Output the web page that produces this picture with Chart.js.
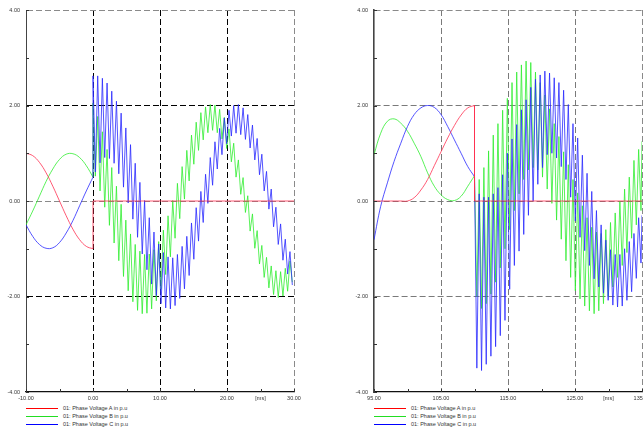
<!DOCTYPE html>
<html>
<head>
<meta charset="utf-8">
<script src="https://cdn.jsdelivr.net/npm/chart.js@4.4.1/dist/chart.umd.min.js"></script>
<style>
  html, body { margin: 0; padding: 0; background: #fff; }
  #wrap { position: relative; width: 643px; height: 432px; overflow: hidden; }
  #wrap canvas { position: absolute; top: 0; }
  #leftChart { left: 0; }
  #rightChart { left: 348px; }
  .legend { position: absolute; font-family: "Liberation Sans", Arial, sans-serif; font-size: 5.5px; color: #333; }
  .legend .swatch { position: absolute; left: 0; width: 32px; height: 1px; }
  .legend .label { position: absolute; left: 37px; line-height: 7px; white-space: nowrap; }
</style>
</head>
<body>
<div id="wrap">
  <canvas id="leftChart" width="320" height="404"></canvas>
  <canvas id="rightChart" width="320" height="404"></canvas>
  <div class="legend" id="leftLegend" style="left:26px; top:408px;"></div>
  <div class="legend" id="rightLegend" style="left:374px; top:408px;"></div>
</div>
<script>
// series names and colours
const seriesNames = ['01: Phase Voltage A in p.u', '01: Phase Voltage B in p.u', '01: Phase Voltage C in p.u'];
const seriesColors = ['#ff3050', '#30ee30', '#2828ff'];
const legendColors = ['#ff0000', '#22dd22', '#0000ff'];

// y axis (both panels)
const yTicks = [-4, -3, -2, -1, 0, 1, 2, 3, 4];
const yLabels = ['-4.00', '', '-2.00', '', '0.00', '', '2.00', '', '4.00'];

// left panel x axis [ms]
const leftXTicks = [-10, -5, 0, 5, 10, 15, 20, 25, 30];
const leftXLabels = ['-10.00', '', '0.00', '', '10.00', '', '20.00', '[ms]', '30.00'];

// right panel x axis [ms]
const rightXTicks = [95, 100, 105, 110, 115, 120, 125, 130, 135];
const rightXLabels = ['95.00', '', '105.00', '', '115.00', '', '125.00', '[ms]', '135.00'];

// left panel, before the fault (t = -10 .. 0 ms)
const leftPreT = [-10, -9, -8, -7, -6, -5, -4, -3, -2, -1, 0];
const leftPreA = [1, 0.95, 0.81, 0.59, 0.31, 0, -0.31, -0.59, -0.81, -0.95, -1];
const leftPreB = [-0.5, -0.21, 0.1, 0.41, 0.67, 0.87, 0.98, 0.99, 0.91, 0.74, 0.5];
const leftPreC = [-0.5, -0.74, -0.91, -0.99, -0.98, -0.87, -0.67, -0.41, -0.1, 0.21, 0.5];

// left panel, after the fault: phase A stays at zero
const leftFaultT = [0, 30];
const leftFaultA = [0, 0];

// left panel, after the fault: ringing phases B and C (peaks and troughs)
const leftPostT = [0, 0.35, 0.7, 1.05, 1.4, 1.75, 2.1, 2.45, 2.8, 3.15, 3.5, 3.85, 4.2, 4.55, 4.9, 5.25,
  5.6, 5.95, 6.3, 6.65, 7, 7.35, 7.7, 8.05, 8.4, 8.75, 9.1, 9.45, 9.8, 10.15, 10.5, 10.85, 11.2, 11.55,
  11.9, 12.25, 12.6, 12.95, 13.3, 13.65, 14, 14.35, 14.7, 15.05, 15.4, 15.75, 16.1, 16.45, 16.8, 17.15,
  17.5, 17.85, 18.2, 18.55, 18.9, 19.25, 19.6, 19.95, 20.3, 20.65, 21, 21.35, 21.7, 22.05, 22.4, 22.75,
  23.1, 23.45, 23.8, 24.15, 24.5, 24.85, 25.2, 25.55, 25.9, 26.25, 26.6, 26.95, 27.3, 27.65, 28, 28.35,
  28.7, 29.05, 29.4, 29.75];
const leftPostB = [2.05, 0.52, 1.77, 0.21, 1.45, -0.13, 1.08, -0.51, 0.70, -0.88,
  0.31, -1.25, -0.07, -1.58, -0.40, -1.88, -0.69, -2.11, -0.91, -2.29,
  -1.05, -2.36, -1.12, -2.35, -1.11, -2.26, -1.02, -2.09, -0.85, -1.85,
  -0.61, -1.54, -0.31, -1.17, 0.01, -0.78, 0.37, -0.37, 0.72, 0.04,
  1.06, 0.42, 1.38, 0.77, 1.65, 1.06, 1.85, 1.28, 1.97, 1.43,
  2.02, 1.48, 2.01, 1.43, 1.92, 1.30, 1.75, 1.10, 1.51, 0.82,
  1.21, 0.50, 0.86, 0.14, 0.49, -0.24, 0.11, -0.63, -0.27, -0.99,
  -0.62, -1.32, -0.93, -1.60, -1.18, -1.82, -1.36, -1.96, -1.46, -2.02,
  -1.48, -1.99, -1.41, -1.89, -1.26, -1.70];
const leftPostC = [2.62, 0.61, 2.62, 0.80, 2.57, 0.91, 2.47, 0.89, 2.30, 0.79,
  2.09, 0.57, 1.84, 0.29, 1.53, -0.04, 1.18, -0.38, 0.79, -0.76,
  0.39, -1.11, 0.01, -1.44, -0.35, -1.74, -0.65, -1.98, -0.90, -2.15,
  -1.08, -2.24, -1.17, -2.26, -1.19, -2.19, -1.12, -2.04, -0.95, -1.84,
  -0.74, -1.56, -0.46, -1.22, -0.14, -0.84, 0.20, -0.45, 0.56, -0.05,
  0.91, 0.33, 1.24, 0.67, 1.52, 0.97, 1.74, 1.20, 1.90, 1.36,
  2.00, 1.42, 2.02, 1.39, 1.95, 1.29, 1.81, 1.11, 1.59, 0.86,
  1.31, 0.55, 0.98, 0.21, 0.62, -0.17, 0.25, -0.54, -0.13, -0.91,
  -0.48, -1.24, -0.80, -1.53, -1.06, -1.76];

// right panel, before the fault (t = 95 .. 110 ms)
const rightPreT = [95, 96, 97, 98, 99, 100, 101, 102, 103, 104, 105, 106, 107, 108, 109, 110];
const rightPreA = [0, 0, 0, 0, 0, 0, 0.07, 0.23, 0.45, 0.74, 1.03, 1.32, 1.58, 1.8, 1.95, 2.0];
const rightPreB = [0.97, 1.42, 1.67, 1.72, 1.63, 1.46, 1.21, 0.93, 0.59, 0.31, 0.13, 0.03, 0.01, 0.1, 0.31, 0.53];
const rightPreC = [-0.81, -0.11, 0.38, 0.83, 1.21, 1.56, 1.81, 1.95, 2.0, 1.96, 1.81, 1.56, 1.28, 1.0, 0.72, 0.51];

// right panel, after the fault: phase A drops to zero
const rightFaultT = [110, 135];
const rightFaultA = [0, 0];

// right panel, after the fault: ringing phases B and C
const rightPostT = [110.35, 110.7, 111.05, 111.4, 111.75, 112.1, 112.45, 112.8, 113.15, 113.5, 113.85,
  114.2, 114.55, 114.9, 115.25, 115.6, 115.95, 116.3, 116.65, 117, 117.35, 117.7, 118.05, 118.4, 118.75,
  119.1, 119.45, 119.8, 120.15, 120.5, 120.85, 121.2, 121.55, 121.9, 122.25, 122.6, 122.95, 123.3,
  123.65, 124, 124.35, 124.7, 125.05, 125.4, 125.75, 126.1, 126.45, 126.8, 127.15, 127.5, 127.85,
  128.2, 128.55, 128.9, 129.25, 129.6, 129.95, 130.3, 130.65, 131, 131.35, 131.7, 132.05, 132.4,
  132.75, 133.1, 133.45, 133.8, 134.15, 134.5, 134.85, 135];
const rightPostB = [-2.0, 0.45, -2.25, 0.7, -2.15, 1.05, -1.95, 1.38, -1.7, 1.62, -1.4, 1.9,
  -1.0, 2.15, -0.6, 2.48, -0.2, 2.7, 0.15, 2.85, 0.45, 2.93, 0.65, 2.9, 0.7, 2.7,
  0.65, 2.48, 0.5, 2.22, 0.25, 1.93, -0.05, 1.62, -0.4, 1.35, -0.8, 1.03, -1.25, 0.76,
  -1.6, 0.45, -1.88, 0.17, -2.05, -0.1, -2.2, -0.35, -2.3, -0.55, -2.36, -0.65, -2.3, -0.68,
  -2.15, -0.6, -2.0, -0.45, -1.8, -0.25, -1.6, 0.0, -1.35, 0.25, -1.08, 0.5, -0.78, 0.85,
  -0.5, 1.08, -0.2, 1.25];
const rightPostC = [-3.5, 0.15, -3.55, 0.08, -3.42, 0.08, -3.25, 0.15, -3.05, 0.28, -2.82, 0.55,
  -2.5, 1.0, -1.85, 1.3, -1.35, 1.6, -1.05, 1.91, -0.7, 2.12, -0.3, 2.38, 0.0, 2.55,
  0.35, 2.64, 0.7, 2.72, 0.97, 2.68, 1.0, 2.58, 0.9, 2.48, 0.72, 2.32, 0.45, 2.02,
  0.08, 1.62, -0.42, 1.32, -0.76, 0.96, -1.04, 0.58, -1.35, 0.2, -1.63, -0.2, -1.8, -0.5,
  -1.93, -0.82, -2.08, -1.02, -2.18, -1.12, -2.22, -1.12, -2.2, -1.0, -2.08, -0.85, -1.9, -0.68,
  -1.62, -0.35, -1.3, -0.3];

function pts(ts, vs) {
  return ts.map((t, i) => ({ x: t, y: vs[i] }));
}

// post-fault trace starts where the pre-fault trace ended
function joined(preT, preV, ts, vs) {
  const last = preT.length - 1;
  return [{ x: preT[last], y: preV[last] }].concat(pts(ts, vs));
}

function line(data, color, smooth) {
  return {
    data: data,
    borderColor: color,
    borderWidth: 0.8,
    pointRadius: 0,
    fill: false,
    tension: smooth ? 0.4 : 0,
  };
}

// small tick marks pointing into the plot
const innerTicks = {
  id: 'innerTicks',
  afterDraw(chart) {
    const { ctx, chartArea, scales } = chart;
    ctx.save();
    ctx.strokeStyle = '#333';
    ctx.lineWidth = 1;
    scales.x.ticks.forEach(t => {
      const px = Math.round(scales.x.getPixelForValue(t.value)) + 0.5;
      ctx.beginPath();
      ctx.moveTo(px, chartArea.bottom);
      ctx.lineTo(px, chartArea.bottom - 3);
      ctx.stroke();
    });
    scales.y.ticks.forEach(t => {
      const py = Math.round(scales.y.getPixelForValue(t.value)) + 0.5;
      ctx.beginPath();
      ctx.moveTo(chartArea.left, py);
      ctx.lineTo(chartArea.left + 3, py);
      ctx.stroke();
    });
    ctx.restore();
  }
};

function makeChart(id, datasets, xTicks, xLabels, majorColor, yZeroColor, yBorderWidth) {
  const xMin = xTicks[0], xMax = xTicks[xTicks.length - 1];
  const tickFont = { family: '"Liberation Sans", Arial, sans-serif', size: 5.5 };
  return new Chart(document.getElementById(id), {
    type: 'line',
    data: { datasets: datasets },
    options: {
      responsive: false,
      animation: false,
      events: [],
      layout: { padding: { top: 10, right: 26, bottom: 0, left: 0 } },
      plugins: { legend: { display: false }, tooltip: { enabled: false } },
      scales: {
        x: {
          type: 'linear',
          min: xMin,
          max: xMax,
          afterBuildTicks: s => { s.ticks = xTicks.map(v => ({ value: v })); },
          afterFit: s => { s.height = 12; },
          ticks: {
            autoSkip: false,
            maxRotation: 0,
            padding: 3,
            color: '#333',
            font: tickFont,
            callback: (v, i) => xLabels[i],
          },
          grid: {
            drawTicks: false,
            lineWidth: 1,
            color: c => {
              const v = c.tick.value;
              if (v === xMax) return '#8a8a8a';
              if (v === xMin || (v - xMin) % 10 !== 0) return 'rgba(0,0,0,0)';
              return majorColor;
            },
          },
          border: { color: '#111', width: 1.2, dash: [6, 3] },
        },
        y: {
          min: -4,
          max: 4,
          afterBuildTicks: s => { s.ticks = yTicks.map(v => ({ value: v })); },
          afterFit: s => { s.width = 26; },
          ticks: {
            padding: 6,
            color: '#333',
            font: tickFont,
            callback: (v, i) => yLabels[i],
          },
          grid: {
            drawTicks: false,
            lineWidth: 1,
            color: c => {
              const v = c.tick.value;
              if (v === 4) return '#8a8a8a';
              if (v === 0) return yZeroColor;
              if (v === 2 || v === -2) return majorColor;
              return 'rgba(0,0,0,0)';
            },
          },
          border: { color: '#444', width: yBorderWidth, dash: [6, 3] },
        },
      },
    },
    plugins: [innerTicks],
  });
}

// red on top, then blue, then green
makeChart('leftChart', [
  line(joined(leftPreT, leftPreA, leftFaultT, leftFaultA), seriesColors[0], false),
  line(pts(leftPreT, leftPreA), seriesColors[0], true),
  line(joined(leftPreT, leftPreC, leftPostT, leftPostC), seriesColors[2], false),
  line(pts(leftPreT, leftPreC), seriesColors[2], true),
  line(joined(leftPreT, leftPreB, leftPostT, leftPostB), seriesColors[1], false),
  line(pts(leftPreT, leftPreB), seriesColors[1], true),
], leftXTicks, leftXLabels, '#000', '#8a8a8a', 1);

makeChart('rightChart', [
  line(joined(rightPreT, rightPreA, rightFaultT, rightFaultA), seriesColors[0], false),
  line(pts(rightPreT, rightPreA), seriesColors[0], true),
  line(joined(rightPreT, rightPreC, rightPostT, rightPostC), seriesColors[2], false),
  line(pts(rightPreT, rightPreC), seriesColors[2], true),
  line(joined(rightPreT, rightPreB, rightPostT, rightPostB), seriesColors[1], false),
  line(pts(rightPreT, rightPreB), seriesColors[1], true),
], rightXTicks, rightXLabels, '#7a7a7a', '#7a7a7a', 1.6);

// legends under each panel
['leftLegend', 'rightLegend'].forEach(id => {
  const box = document.getElementById(id);
  seriesNames.forEach((name, i) => {
    const y = i * 8.2;
    const sw = document.createElement('div');
    sw.className = 'swatch';
    sw.style.top = y + 'px';
    sw.style.background = legendColors[i];
    const lb = document.createElement('div');
    lb.className = 'label';
    lb.style.top = (y - 3.5) + 'px';
    lb.textContent = name;
    box.appendChild(sw);
    box.appendChild(lb);
  });
});
</script>
</body>
</html>
